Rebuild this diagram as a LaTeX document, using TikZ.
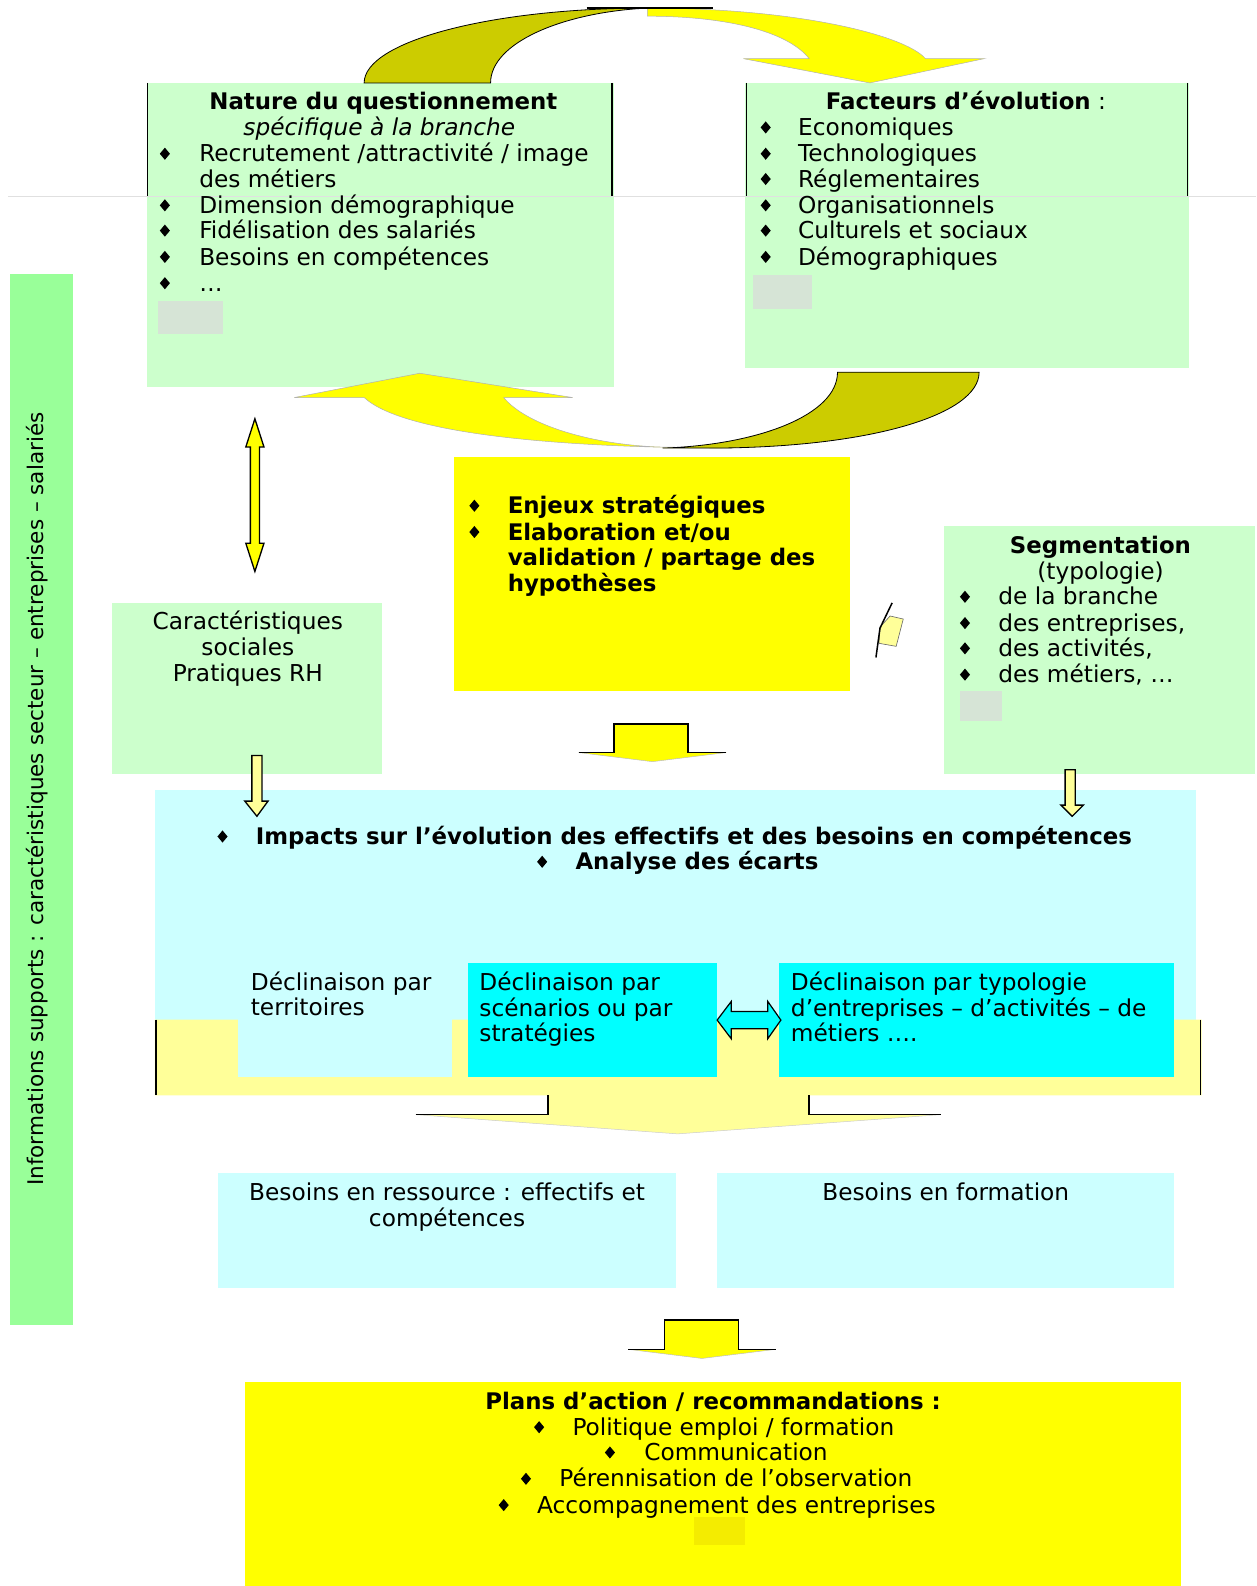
\documentclass[tikz,border=0pt]{standalone}
\usepackage{fontspec}
\setmainfont{DejaVu Sans}
\definecolor{lgreen}{HTML}{CCFFCC}
\definecolor{bargreen}{HTML}{99FF99}
\definecolor{yel}{HTML}{FFFF00}
\definecolor{darkyel}{HTML}{CCCC00}
\definecolor{lyel}{HTML}{FFFF99}
\definecolor{lcyan}{HTML}{CCFFFF}
\definecolor{cyn}{HTML}{00FFFF}
\definecolor{patch}{HTML}{D6E4D6}
\definecolor{ypatch}{HTML}{F4EC00}
\tikzset{
 box/.style={inner sep=0pt, outer sep=0pt, anchor=north west, draw=none},
 txt/.style={inner sep=0pt, outer sep=0pt, font=\fontsize{23}{25.5}\selectfont},
 edge/.style={draw=black, line width=1.5pt},
 arrowline/.style={draw=black, line width=1.3pt},
 soft/.style={draw=black!30, line width=0.5pt},
}
\newcommand\bft{\fontsize{22.6}{25.5}\selectfont\bfseries}
\newcommand\mybox[6]{\node[box, fill=#6, minimum width={#4-#2}, minimum height={#5-#3}] (#1) at (#2,#3) {};}
\newcommand\myitem[5]{\fill (#2-5,#4) -- (#2,#4-6) -- (#2+5,#4) -- (#2,#4+6) -- cycle; \node[txt,anchor=base west] (#1) at (#3,#4+8) {#5};}
\newcommand\myleft[4]{\node[txt,anchor=base west] (#1) at (#2,#3+8) {#4};}
\newcommand\mycenter[4]{\node[txt,anchor=base] (#1) at (#2,#3+8) {#4};}
\begin{document}
\begin{tikzpicture}[x=1pt,y=-1pt]
\useasboundingbox (0,0) rectangle (1242,1568);

% left bar
\mybox{bar}{10}{271}{72}{1310}{bargreen}
\node[inner sep=0pt, font=\fontsize{21.3}{24}\selectfont, rotate=90] (bartxt) at (37,790) {Informations supports : caractéristiques secteur – entreprises – salariés};

% top boxes
\mybox{nature}{145}{82}{607}{383}{lgreen}
\mybox{facteurs}{737}{82}{1175}{364}{lgreen}
\draw[black!12, line width=0.8pt] (8,194) -- (1242,194);
\draw[edge] (146,82) -- (146,194);
\draw[edge] (605,82) -- (605,194);
\draw[edge] (738,82) -- (738,194);
\draw[edge] (1174,82) -- (1174,194);
\mybox{p1}{156}{298}{220}{330}{patch}
\mybox{p2}{744}{272}{803}{305}{patch}

\mycenter{nat1}{379}{100}{\bft Nature du questionnement}
\mycenter{nat2}{375}{126}{\itshape spécifique à la branche}
\myitem{nat3}{163}{197}{152}{Recrutement /attractivité / image}
\myleft{nat4}{197}{177}{des métiers}
\myitem{nat5}{163}{197}{203}{Dimension démographique}
\myitem{nat6}{163}{197}{228}{Fidélisation des salariés}
\myitem{nat7}{163}{197}{254}{Besoins en compétences}
\myitem{nat8}{163}{197}{280}{…}

\mycenter{fac1}{955}{100}{{\bft Facteurs d’évolution} :}
\myitem{fac2}{757}{789}{126}{Economiques}
\myitem{fac3}{757}{789}{152}{Technologiques}
\myitem{fac4}{757}{789}{177}{Réglementaires}
\myitem{fac5}{757}{789}{203}{Organisationnels}
\myitem{fac6}{757}{789}{228}{Culturels et sociaux}
\myitem{fac7}{757}{789}{254}{Démographiques}

% top curved arrow (Nature -> Facteurs)
\filldraw[fill=darkyel, draw=black, line width=0.8pt] (360,82) .. controls (360,41) and (485,8) .. (640,8) .. controls (557,12) and (485,42) .. (485,82) -- cycle;
\filldraw[fill=yel, soft] (640,8) .. controls (790,8) and (895,35) .. (915,58) -- (973,58) -- (860,82) -- (735,58) -- (800,58) .. controls (778,30) and (715,16) .. (640,16) -- cycle;
\draw[black, line width=1.2pt] (580,8) -- (705,8);

% bottom curved arrow (Facteurs -> Nature)
\filldraw[fill=yel, soft] (498,393) -- (566,393) -- (415,369) -- (291,393) -- (360,393) .. controls (400,430) and (560,443) .. (725,443) -- (655,442) .. controls (585,440) and (520,420) .. (498,393) -- cycle;
\filldraw[fill=darkyel, draw=black, line width=0.8pt] (828,368) -- (968,368) .. controls (968,410) and (860,443) .. (700,443) -- (655,443) .. controls (750,440) and (828,410) .. (828,368) -- cycle;

% left double arrow
\filldraw[fill=yel, arrowline] (252,414) -- (261,442) -- (256.5,442) -- (256.5,537) -- (261,537) -- (252,565) -- (243,537) -- (247.5,537) -- (247.5,442) -- (243,442) -- cycle;

% center yellow box
\mybox{enjeux}{449}{452}{840}{683}{yel}
\myitem{enj1}{469}{502}{500}{\bft Enjeux stratégiques}
\myitem{enj2}{469}{502}{526}{\bft Elaboration et/ou}
\myleft{enj3}{502}{551}{\bft validation / partage des}
\myleft{enj4}{502}{577}{\bft hypothèses}

% small tilted arrow
\filldraw[fill=lyel, draw=black!60, line width=0.6pt] (870,620) -- (880,609) -- (893,612) -- (886,639) -- (869,636) -- cycle;
\draw[black, line width=1.5pt] (882,596) -- (870,621) -- (866,650);

% down arrow under center box
\fill[yel] (572,744) -- (607,744) -- (607,716) -- (680,716) -- (680,744) -- (718,744) -- (645,753) -- cycle;
\draw[black!25, line width=0.5pt] (572,744) -- (645,753) -- (718,744);
\draw[edge] (572,744) -- (607,744) -- (607,716) -- (680,716) -- (680,744) -- (718,744);

% segmentation
\mybox{segm}{933}{520}{1241}{765}{lgreen}
\mybox{p3}{949}{683}{991}{713}{patch}
\mycenter{seg1}{1088}{539}{\bft Segmentation}
\mycenter{seg2}{1088}{565}{(typologie)}
\myitem{seg3}{954}{987}{590}{de la branche}
\myitem{seg4}{954}{987}{616}{des entreprises,}
\myitem{seg5}{954}{987}{641}{des activités,}
\myitem{seg6}{954}{987}{667}{des métiers, …}

% caracteristiques
\mybox{carac}{111}{596}{378}{765}{lgreen}
\mycenter{car1}{245}{614}{Caractéristiques}
\mycenter{car2}{245}{640}{sociales}
\mycenter{car3}{245}{666}{Pratiques RH}

% big blue box
\mybox{impacts}{153}{781}{1182}{1008}{lcyan}
% big light-yellow arrow
\fill[lyel] (153,1008) -- (1188,1008) -- (1188,1083) -- (800,1083) -- (800,1102) -- (930,1102) -- (670,1121) -- (411,1102) -- (542,1102) -- (542,1083) -- (153,1083) -- cycle;
\draw[black!20, line width=0.5pt] (411,1102) -- (670,1121) -- (930,1102);
\draw[edge] (154,1008) -- (154,1083);
\draw[edge] (1187,1008) -- (1187,1083);
\draw[edge] (542,1083) -- (542,1102) -- (411,1102);
\draw[edge] (800,1083) -- (800,1102) -- (930,1102);

% small down arrows
\filldraw[fill=lyel, arrowline] (249,747) -- (259,747) -- (259,792) -- (265,792) -- (254,807) -- (242,792) -- (249,792) -- cycle;
\filldraw[fill=lyel, arrowline] (1053,761) -- (1063,761) -- (1063,796) -- (1071,796) -- (1060,807) -- (1049,796) -- (1053,796) -- cycle;

\myitem{imp1}{220}{253}{827}{\bft Impacts sur l’évolution des effectifs et des besoins en compétences}
\myitem{imp2}{536}{569}{852}{\bft Analyse des écarts}

\mybox{terr}{235}{955}{447}{1065}{lcyan}
\mybox{scen}{463}{952}{709}{1065}{cyn}
\mybox{typo}{770}{952}{1161}{1065}{cyn}
\myleft{ter1}{248}{971}{Déclinaison par}
\myleft{ter2}{248}{996}{territoires}
\myleft{sce1}{474}{971}{Déclinaison par}
\myleft{sce2}{474}{997}{scénarios ou par}
\myleft{sce3}{474}{1022}{stratégies}
\myleft{typ1}{782}{971}{Déclinaison par typologie}
\myleft{typ2}{782}{997}{d’entreprises – d’activités – de}
\myleft{typ3}{782}{1022}{métiers ….}

% horizontal double arrow
\filldraw[fill=cyn, draw=black, line width=1.2pt] (709,1008.5) -- (723,990) -- (723,1000) -- (759,1000) -- (759,990) -- (772,1008.5) -- (759,1027) -- (759,1017) -- (723,1017) -- (723,1027) -- cycle;

% besoins
\mybox{bres}{216}{1160}{668}{1273}{lcyan}
\mybox{bform}{709}{1160}{1161}{1273}{lcyan}
\mycenter{bre1}{442}{1179}{Besoins en ressource : effectifs et}
\mycenter{bre2}{442}{1205}{compétences}
\mycenter{bfo1}{935}{1179}{Besoins en formation}

% down arrow to plans
\fill[yel] (621,1334) -- (657,1334) -- (657,1305) -- (730,1305) -- (730,1334) -- (767,1334) -- (694,1343) -- cycle;
\draw[black!25, line width=0.5pt] (621,1334) -- (694,1343) -- (767,1334);
\draw[edge] (621,1334) -- (657,1334) -- (657,1305) -- (730,1305) -- (730,1334) -- (767,1334);

% plans
\mybox{plans}{242}{1366}{1168}{1568}{yel}
\mybox{p4}{686}{1500}{737}{1527}{ypatch}
\mycenter{pl1}{705}{1385}{\bft Plans d’action / recommandations :}
\myitem{pl2}{533}{566}{1411}{Politique emploi / formation}
\myitem{pl3}{603}{637}{1436}{Communication}
\myitem{pl4}{520}{553}{1462}{Pérennisation de l’observation}
\myitem{pl5}{498}{531}{1488}{Accompagnement des entreprises}
\end{tikzpicture}
\end{document}
